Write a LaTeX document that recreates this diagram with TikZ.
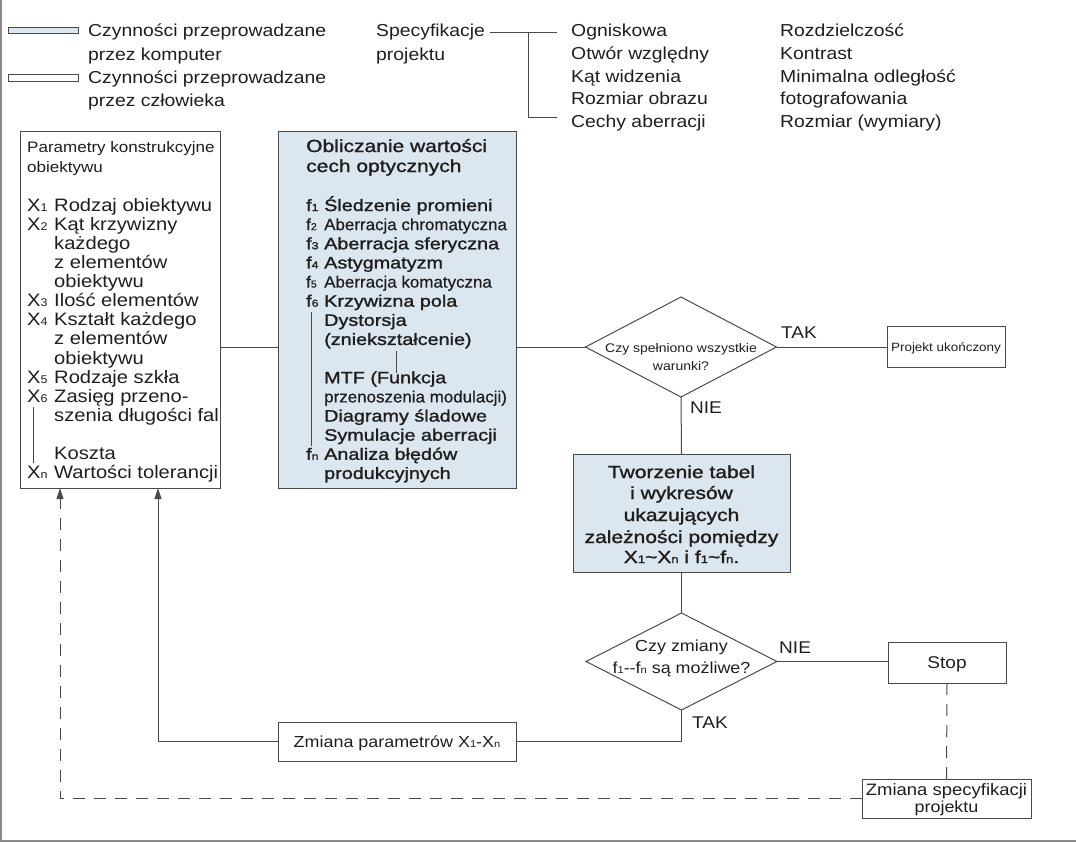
\documentclass[tikz,border=0pt]{standalone}
\usepackage{fontspec}
\setmainfont{Liberation Sans}
\newfontfamily\wf{Liberation Sans}[FakeStretch=1.12]
\newfontfamily\wb{Liberation Sans}[FakeStretch=1.2, FakeBold=1.4]
\newfontfamily\wc{Liberation Sans}[FakeStretch=1.04, FakeBold=0.6]
\usetikzlibrary{shapes.geometric,arrows.meta}
\definecolor{ink}{HTML}{1E1E1E}
\definecolor{lnc}{HTML}{4A4A4A}
\definecolor{pc}{HTML}{DCE6EE}
\definecolor{frc}{HTML}{8A8A8A}
\newcommand\ix[1]{\scalebox{0.62}{#1}}
\begin{document}
\begin{tikzpicture}[x=1pt,y=-1pt,
  ln/.style={draw=lnc, line width=1pt},
  dl/.style={draw=lnc, line width=1pt, dash pattern=on 12pt off 9pt},
  tip/.style={-{Triangle[length=11pt,width=7pt]}},
  box/.style={draw=lnc, line width=1pt, anchor=north west, inner sep=0pt, outer sep=0pt},
  cbox/.style={box, fill=pc},
  dia/.style={diamond, draw=lnc, line width=1pt, inner sep=0pt, outer sep=0pt},
  t/.style={anchor=base west, inner sep=0pt, text=ink},
  tc/.style={anchor=base, inner sep=0pt, text=ink},
  ftop/.style={font=\fontsize{17.3}{20}\wf},
  fhd/.style={font=\fontsize{15.2}{18}\wf},
  fit/.style={font=\fontsize{18}{20}\wf},
  fbh/.style={font=\fontsize{17.5}{20}\wb},
  fbi/.style={font=\fontsize{16.5}{19}\wb},
  fli/.style={font=\fontsize{16.3}{19}\wc},
  flab/.style={font=\fontsize{17}{20}\wf}
]
\useasboundingbox (0,0) rectangle (1076,843);
% frame
\draw[frc, line width=1.5pt] (1,0) -- (1,841) -- (1076,841);

% legend
\node[box, fill=pc, minimum width=70pt, minimum height=6pt] (lg1) at (8,28) {};
\node[box, fill=white, minimum width=70pt, minimum height=6pt] (lg2) at (8,75) {};
\node[t, ftop] (lt1) at (88,37) {Czynności przeprowadzane};
\node[t, ftop] (lt2) at (88,60) {przez komputer};
\node[t, ftop] (lt3) at (88,83) {Czynności przeprowadzane};
\node[t, ftop] (lt4) at (88,106) {przez człowieka};

% specification
\node[t, ftop] (sp1) at (376,37) {Specyfikacje};
\node[t, ftop] (sp2) at (376,60) {projektu};
\coordinate (s0) at (490,33);
\coordinate (s1) at (557,33);
\coordinate (s2) at (528,33);
\coordinate (s3) at (528,117);
\coordinate (s4) at (557,117);
\draw[ln] (s0) -- (s1);
\draw[ln] (s2) -- (s3) -- (s4);
\node[t, ftop] (og1) at (571,37) {Ogniskowa};
\node[t, ftop] (og2) at (571,59.5) {Otwór względny};
\node[t, ftop] (og3) at (571,82) {Kąt widzenia};
\node[t, ftop] (og4) at (571,104.5) {Rozmiar obrazu};
\node[t, ftop] (og5) at (571,127) {Cechy aberracji};
\node[t, ftop] (rz1) at (780,37) {Rozdzielczość};
\node[t, ftop] (rz2) at (780,59.5) {Kontrast};
\node[t, ftop] (rz3) at (780,82) {Minimalna odległość};
\node[t, ftop] (rz4) at (780,104.5) {fotografowania};
\node[t, ftop] (rz5) at (780,127) {Rozmiar (wymiary)};

% boxes
\node[box, minimum width=200pt, minimum height=357pt] (par) at (20,131) {};
\node[cbox, minimum width=238pt, minimum height=357pt] (obl) at (278,131) {};
\node[cbox, minimum width=217pt, minimum height=118pt] (tab) at (573,454) {};
\node[box, minimum width=118pt, minimum height=41pt] (proj) at (887,326) {};
\node[box, minimum width=118pt, minimum height=41pt] (stop) at (888,642) {};
\node[box, minimum width=169pt, minimum height=39pt] (zsp) at (862,779) {};
\node[box, minimum width=238pt, minimum height=39pt] (zpar) at (278,722) {};
\node[dia, minimum width=191pt, minimum height=100pt] (d1) at (681,347) {};
\node[dia, minimum width=191pt, minimum height=97pt] (d2) at (681.5,661.5) {};

% left box text
\node[t, fhd] (ph1) at (27,152) {Parametry konstrukcyjne};
\node[t, fhd] (ph2) at (27,172) {obiektywu};
\node[t, fit] (p0) at (27,211) {\makebox[27pt][l]{X\ix{1}}Rodzaj obiektywu};
\node[t, fit] (p1) at (27,230.14) {\makebox[27pt][l]{X\ix{2}}Kąt krzywizny};
\node[t, fit] (p2) at (54,249.28) {każdego};
\node[t, fit] (p3) at (54,268.42) {z elementów};
\node[t, fit] (p4) at (54,287.56) {obiektywu};
\node[t, fit] (p5) at (27,306.7) {\makebox[27pt][l]{X\ix{3}}Ilość elementów};
\node[t, fit] (p6) at (27,325.84) {\makebox[27pt][l]{X\ix{4}}Kształt każdego};
\node[t, fit] (p7) at (54,344.98) {z elementów};
\node[t, fit] (p8) at (54,364.12) {obiektywu};
\node[t, fit] (p9) at (27,383.26) {\makebox[27pt][l]{X\ix{5}}Rodzaje szkła};
\node[t, fit] (p10) at (27,402.4) {\makebox[27pt][l]{X\ix{6}}Zasięg przeno-};
\node[t, fit] (p11) at (54,421.54) {szenia długości fal};
\node[t, fit] (p13) at (54,459.82) {Koszta};
\node[t, fit] (p14) at (27,478.96) {\makebox[27pt][l]{X\ix{n}}Wartości tolerancji};
\draw[ln] (33,407) -- (33,463);

% middle box text
\node[t, fbh] (oh1) at (306,152) {Obliczanie wartości};
\node[t, fbh] (oh2) at (306,172) {cech optycznych};
\node[t, fbi] (o0) at (306,211) {\makebox[18pt][l]{f\ix{1}}Śledzenie promieni};
\node[t, fli] (o1) at (306,230.14) {\makebox[18pt][l]{f\ix{2}}Aberracja chromatyczna};
\node[t, fbi] (o2) at (306,249.28) {\makebox[18pt][l]{f\ix{3}}Aberracja sferyczna};
\node[t, fbi] (o3) at (306,268.42) {\makebox[18pt][l]{f\ix{4}}Astygmatyzm};
\node[t, fli] (o4) at (306,287.56) {\makebox[18pt][l]{f\ix{5}}Aberracja komatyczna};
\node[t, fbi] (o5) at (306,306.7) {\makebox[18pt][l]{f\ix{6}}Krzywizna pola};
\node[t, fbi] (o6) at (324,325.84) {Dystorsja};
\node[t, fbi] (o7) at (324,344.98) {(zniekształcenie)};
\node[t, fbi] (o9) at (324,383.26) {MTF (Funkcja};
\node[t, fli] (o10) at (324,402.4) {przenoszenia modulacji)};
\node[t, fbi] (o11) at (324,421.54) {Diagramy śladowe};
\node[t, fbi] (o12) at (324,440.68) {Symulacje aberracji};
\node[t, fbi] (o13) at (306,459.82) {\makebox[18pt][l]{f\ix{n}}Analiza błędów};
\node[t, fbi] (o14) at (324,478.96) {produkcyjnych};
\draw[ln] (311,312) -- (311,446);
\draw[ln] (396,351) -- (396,373);

% diamond texts
\node[tc, font=\fontsize{12.5}{15}\wf] (d1a) at (681,352) {Czy spełniono wszystkie};
\node[tc, font=\fontsize{12.5}{15}\wf] (d1b) at (681,370) {warunki?};
\node[tc, font=\fontsize{16}{19}\wf] (d2a) at (681.5,651) {Czy zmiany};
\node[tc, font=\fontsize{16}{19}\wf] (d2b) at (681.5,673) {f\ix{1}--f\ix{n} są możliwe?};

% other box texts
\node[tc, font=\fontsize{12}{15}\wf] (projt) at (946,351) {Projekt ukończony};
\node[tc, font=\fontsize{17}{20}\wf] (stopt) at (947,668) {Stop};
\node[tc, font=\fontsize{16.5}{18}\wf] (zspa) at (946.5,795) {Zmiana specyfikacji};
\node[tc, font=\fontsize{16}{18}\wf] (zspb) at (946.5,812) {projektu};
\node[tc, font=\fontsize{16}{18}\wf] (zpart) at (397,747) {Zmiana parametrów X\ix{1}-X\ix{n}};
\node[tc, fbh] (tb1) at (681.5,478) {Tworzenie tabel};
\node[tc, fbh] (tb2) at (681.5,499) {i wykresów};
\node[tc, fbh] (tb3) at (681.5,521) {ukazujących};
\node[tc, fbh] (tb4) at (681.5,543) {zależności pomiędzy};
\node[tc, fbh] (tb5) at (681.5,563) {X\ix{1}\textasciitilde X\ix{n} i f\ix{1}\textasciitilde f\ix{n}.};

% labels
\node[t, flab] (tak1) at (781,338) {TAK};
\node[t, flab] (nie1) at (690,413) {NIE};
\node[t, flab] (nie2) at (779,653) {NIE};
\node[t, flab] (tak2) at (692,728) {TAK};

% connectors
\coordinate (a1) at (60,488);
\coordinate (a2) at (158,488);
\draw[ln] (par.east |- d1.west) -- (obl.west |- d1.west);
\draw[ln] (obl.east |- d1.west) -- (d1.west);
\draw[ln] (d1.east) -- (proj.west |- d1.east);
\draw[ln] (d1.south) -- (tab.north);
\draw[ln] (tab.south) -- (d2.north);
\draw[ln] (d2.east) -- (stop.west |- d2.east);
\draw[ln] (d2.south) |- (zpar.east);
\draw[ln, tip] (zpar.west) -| (a2);
\draw[dl] (stop.south) -- (zsp.north);
\draw[dl, tip] (zsp.west) -| (a1);
\end{tikzpicture}
\end{document}
